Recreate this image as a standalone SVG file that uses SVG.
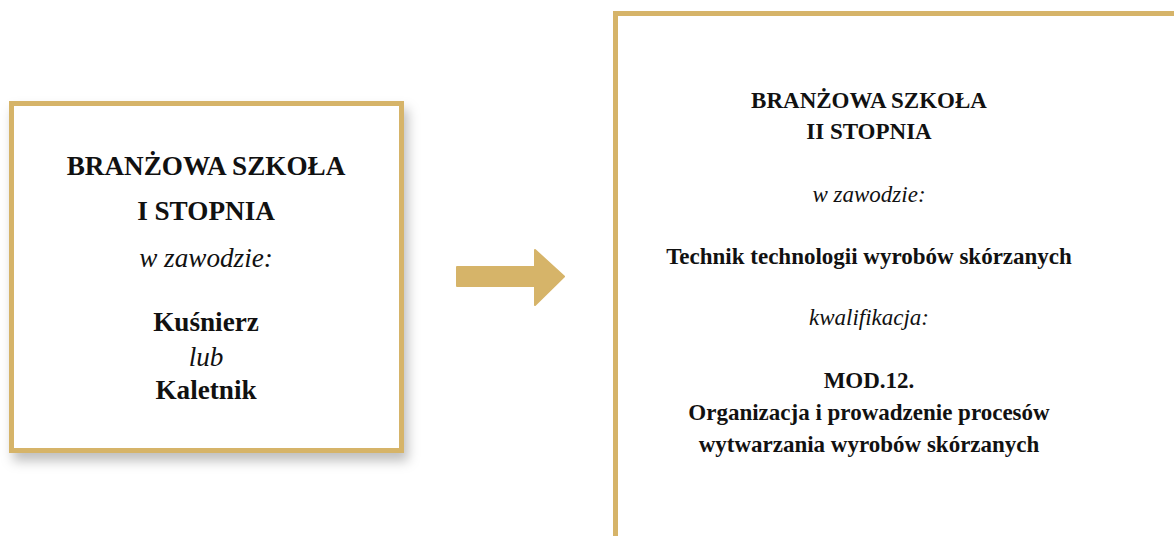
<svg xmlns="http://www.w3.org/2000/svg" width="1174" height="536" viewBox="0 0 1174 536">
<style>
.box{fill:#fff;stroke:#D6B469;stroke-width:5}
text{font-family:"Liberation Serif","Times New Roman",serif;fill:#111;text-anchor:middle}
.b{font-weight:bold}
.i{font-style:italic}
.l{font-size:27.2px}
.r{font-size:23px}
</style>
<defs>
<filter id="sh" x="-10%" y="-10%" width="130%" height="130%">
<feDropShadow dx="4" dy="8" stdDeviation="6" flood-color="#000" flood-opacity="0.25"/>
</filter>
</defs>
<rect width="1174" height="536" fill="#fff"/>
<g id="node-left">
<rect class="box" x="11.5" y="103.5" width="390" height="347" filter="url(#sh)"/>
<text class="l b" x="206" y="175">BRANŻOWA SZKOŁA</text>
<text class="l b" x="206" y="220">I STOPNIA</text>
<text class="l i" x="206" y="267">w zawodzie:</text>
<text class="l b" x="206" y="331">Kuśnierz</text>
<text class="l i" x="206" y="366">lub</text>
<text class="l b" x="206" y="399">Kaletnik</text>
</g>
<g id="connectors">
<path d="M457 267 H535 V250 L564 276.5 L535 305 V286 H457 Z" fill="#D6B469" stroke="#D6B469" stroke-width="2" stroke-linejoin="round"/>
</g>
<g id="node-right">
<rect class="box" x="615.5" y="13.5" width="600" height="600"/>
<text class="r b" x="869" y="108">BRANŻOWA SZKOŁA</text>
<text class="r b" x="869" y="139">II STOPNIA</text>
<text class="r i" x="869" y="202">w zawodzie:</text>
<text class="r b" x="869" y="264">Technik technologii wyrobów skórzanych</text>
<text class="r i" x="869" y="325">kwalifikacja:</text>
<text class="r b" x="869" y="388">MOD.12.</text>
<text class="r b" x="869" y="420">Organizacja i prowadzenie procesów</text>
<text class="r b" x="869" y="452">wytwarzania wyrobów skórzanych</text>
</g>
</svg>
